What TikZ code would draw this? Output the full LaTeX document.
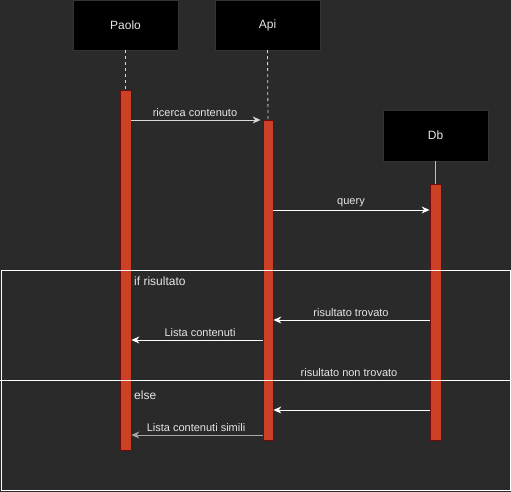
\documentclass[tikz,border=0pt]{standalone}
\usepackage{fontspec}
\setmainfont{Liberation Sans}
\usetikzlibrary{arrows.meta}
\definecolor{bg}{HTML}{2A2A2A}
\definecolor{actfill}{HTML}{CC4125}
\definecolor{actline}{HTML}{6B0A0A}
\definecolor{txt}{HTML}{E6E6E6}
\definecolor{greyline}{HTML}{A8A8A8}
\tikzset{
  actor/.style={draw=black!80!white, fill=black, minimum width=105pt, minimum height=50pt, inner sep=0pt, text=txt, font=\fontsize{12pt}{14pt}\selectfont},
  actbar/.style={draw=actline, fill=actfill, line width=0.8pt, inner sep=0pt},
  msg/.style={draw=white, line width=0.9pt, -{Stealth[length=8pt,width=7pt]}},
  lbl/.style={text=txt, font=\fontsize{11pt}{13pt}\selectfont, inner sep=1pt},
  frametxt/.style={text=txt, font=\fontsize{12pt}{14pt}\selectfont, anchor=west, inner sep=0pt},
  lifeline/.style={draw=white!85!black, dashed, dash pattern=on 3pt off 3pt, line width=0.8pt}
}
\begin{document}
\begin{tikzpicture}[x=1pt,y=-1pt]
\useasboundingbox (0,0) rectangle (511,492);
\fill[bg] (0,0) rectangle (511,492);
% actors
\node[actor] (paolo) at (125.5,25) {Paolo};
\node[actor] (api) at (267.5,25) {Api};
\node[actor, minimum height=51pt] (db) at (435.5,135.5) {Db};
% activation bars
\node[actbar, minimum width=11pt, minimum height=360pt] (pa) at (125.5,270) {};
\node[actbar, minimum width=10pt, minimum height=320pt] (aa) at (268,280) {};
\node[actbar, minimum width=11pt, minimum height=256pt] (da) at (435.5,312) {};
% lifelines
\draw[lifeline] (paolo.south) -- (pa.north);
\draw[lifeline] (api.south) -- (aa.north);
\draw[draw=white!75!black, line width=0.8pt] (db.south) -- (da.north);
% frame
\coordinate (ftl) at (1,270);
\coordinate (fbr) at (510,490);
\draw[white, line width=0.8pt] (ftl) rectangle (fbr);
\coordinate (el) at (0,380);
\coordinate (er) at (511,380);
\draw[white, line width=0.8pt] (el) -- (er);
\node[frametxt] (ift) at (134,281) {if risultato};
\node[frametxt] (elset) at (134,395) {else};
% message rows
\coordinate (m1) at (0,120);
\coordinate (m2) at (0,210);
\coordinate (m3) at (0,320);
\coordinate (m4) at (0,340);
\coordinate (m5) at (0,410);
\coordinate (m6) at (0,435);
\draw[msg, draw=white!85!black] (pa.east |- m1) -- ([xshift=-2pt]aa.west |- m1);
\node[lbl, anchor=south] (l1) at (195,118) {ricerca contenuto};
\draw[msg] (aa.east |- m2) -- (da.west |- m2);
\node[lbl, anchor=south] (l2) at (351,208) {query};
\draw[msg] (da.west |- m3) -- (aa.east |- m3);
\node[lbl, anchor=south] (l3) at (351,318) {risultato trovato};
\draw[msg] (aa.west |- m4) -- (pa.east |- m4);
\node[lbl, anchor=south] (l4) at (200,338) {Lista contenuti};
\node[lbl, anchor=south] (l5) at (349,378) {risultato non trovato};
\draw[msg] (da.west |- m5) -- (aa.east |- m5);
\draw[msg, draw=greyline] (aa.west |- m6) -- (pa.east |- m6);
\node[lbl, anchor=south] (l6) at (196,433) {Lista contenuti simili};
\end{tikzpicture}
\end{document}
